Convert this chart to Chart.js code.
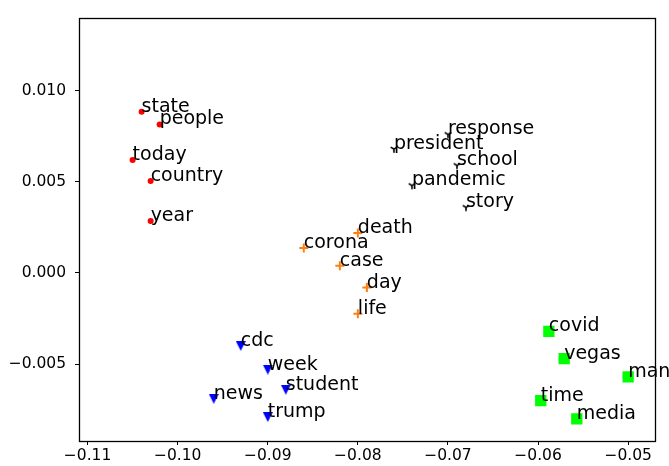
<!DOCTYPE html>
<html>
<head>
<meta charset="utf-8">
<script src="https://cdn.jsdelivr.net/npm/chart.js@4/dist/chart.umd.min.js"></script>
<style>
  html, body { margin: 0; padding: 0; background: #fff; overflow: hidden; }
  #wrap { width: 669px; height: 466px; overflow: hidden; }
  canvas { display: block; }
</style>
</head>
<body>
<div id="wrap"><canvas id="c" width="669" height="490"></canvas></div>
<script>
// Word embedding clusters (2-D projection)
const redWords = ['state', 'people', 'today', 'country', 'year'];
const redX = [-0.104, -0.102, -0.105, -0.103, -0.103];
const redY = [0.00885, 0.00815, 0.0062, 0.00505, 0.00285];

const blackWords = ['response', 'president', 'school', 'pandemic', 'story'];
const blackX = [-0.070, -0.076, -0.069, -0.074, -0.068];
const blackY = [0.0076, 0.0068, 0.0059, 0.0048, 0.0036];

const orangeWords = ['death', 'corona', 'case', 'day', 'life'];
const orangeX = [-0.080, -0.086, -0.082, -0.079, -0.080];
const orangeY = [0.0022, 0.00137, 0.0004, -0.0008, -0.00224];

const blueWords = ['cdc', 'week', 'student', 'news', 'trump'];
const blueX = [-0.093, -0.090, -0.088, -0.096, -0.090];
const blueY = [-0.0040, -0.0053, -0.0064, -0.0069, -0.0079];

const greenWords = ['covid', 'vegas', 'man', 'time', 'media'];
const greenX = [-0.0588, -0.0571, -0.0500, -0.0597, -0.0557];
const greenY = [-0.0032, -0.0047, -0.0057, -0.0070, -0.0080];

const xTickValues = [-0.11, -0.10, -0.09, -0.08, -0.07, -0.06, -0.05];
const xTickLabels = ['\u22120.11', '\u22120.10', '\u22120.09', '\u22120.08', '\u22120.07', '\u22120.06', '\u22120.05'];
const yTickValues = [-0.005, 0.000, 0.005, 0.010];
const yTickLabels = ['\u22120.005', '0.000', '0.005', '0.010'];

const FONT = '"DejaVu Sans", sans-serif';

function toPoints(xs, ys) {
  return xs.map((x, i) => ({ x: x, y: ys[i] }));
}

// downward triangle marker (equal width and height)
function triangleDown(size, color) {
  const cv = document.createElement('canvas');
  cv.width = size; cv.height = size;
  const g = cv.getContext('2d');
  g.fillStyle = color;
  g.beginPath();
  g.moveTo(0, 0);
  g.lineTo(size, 0);
  g.lineTo(size / 2, size);
  g.closePath();
  g.fill();
  return cv;
}

// "Y"-shaped three-spoke marker
function triDown(r, lw, color) {
  const s = Math.ceil(2 * r + lw + 2);
  const cv = document.createElement('canvas');
  cv.width = s; cv.height = s;
  const g = cv.getContext('2d');
  const c = s / 2;
  g.strokeStyle = color;
  g.lineWidth = lw;
  g.lineCap = 'butt';
  g.beginPath();
  g.moveTo(c, c); g.lineTo(c, c + r);
  g.moveTo(c, c); g.lineTo(c - 0.866 * r, c - 0.5 * r);
  g.moveTo(c, c); g.lineTo(c + 0.866 * r, c - 0.5 * r);
  g.stroke();
  return cv;
}

const wordLabels = {
  id: 'wordLabels',
  afterDatasetsDraw(chart) {
    const ctx = chart.ctx;
    ctx.save();
    ctx.font = '19px ' + FONT;
    ctx.fillStyle = '#000';
    ctx.textAlign = 'left';
    ctx.textBaseline = 'alphabetic';
    chart.data.datasets.forEach((ds, di) => {
      const meta = chart.getDatasetMeta(di);
      meta.data.forEach((el, i) => {
        ctx.fillText(ds.words[i], el.x, el.y);
      });
    });
    ctx.restore();
  }
};

const frameBox = {
  id: 'frameBox',
  afterDraw(chart) {
    const a = chart.chartArea;
    const ctx = chart.ctx;
    ctx.save();
    ctx.strokeStyle = '#000';
    ctx.lineWidth = 1.3;
    ctx.strokeRect(Math.round(a.left) + 0.5, Math.round(a.top) + 0.5,
                   Math.round(a.right - a.left), Math.round(a.bottom - a.top));
    ctx.restore();
  }
};

new Chart(document.getElementById('c'), {
  type: 'scatter',
  data: {
    datasets: [
      { words: redWords, data: toPoints(redX, redY), pointStyle: 'circle', pointRadius: 3,
        backgroundColor: '#ff0000', borderWidth: 0 },
      { words: blackWords, data: toPoints(blackX, blackY), pointStyle: triDown(3.8, 1.6, '#000'),
        pointRadius: 4 },
      { words: orangeWords, data: toPoints(orangeX, orangeY), pointStyle: 'cross', pointRadius: 4.5,
        borderColor: '#ff7f0e', borderWidth: 2 },
      { words: blueWords, data: toPoints(blueX, blueY), pointStyle: triangleDown(10, '#0000ff'),
        pointRadius: 5 },
      { words: greenWords, data: toPoints(greenX, greenY), pointStyle: 'rect', pointRadius: 8,
        backgroundColor: '#00ff00', borderWidth: 0 }
    ]
  },
  options: {
    responsive: false,
    animation: false,
    events: [],
    layout: { padding: { top: 13, right: 14, left: 0, bottom: 0 } },
    plugins: { legend: { display: false }, tooltip: { enabled: false } },
    scales: {
      x: {
        type: 'linear',
        min: -0.11095,
        max: -0.04702,
        grid: { drawOnChartArea: false, drawTicks: true, tickLength: 4, tickColor: '#000', tickWidth: 1 },
        border: { display: false },
        afterBuildTicks(scale) { scale.ticks = xTickValues.map(v => ({ value: v })); },
        afterFit(scale) { scale.height = 49; },
        ticks: {
          color: '#000',
          font: { family: FONT, size: 15.5 },
          padding: 2,
          maxRotation: 0,
          autoSkip: false,
          callback(value) {
            const i = xTickValues.findIndex(v => Math.abs(v - value) < 1e-9);
            return i >= 0 ? xTickLabels[i] : '';
          }
        }
      },
      y: {
        type: 'linear',
        min: -0.009216,
        max: 0.01397,
        grid: { drawOnChartArea: false, drawTicks: true, tickLength: 4, tickColor: '#000', tickWidth: 1 },
        border: { display: false },
        afterBuildTicks(scale) { scale.ticks = yTickValues.map(v => ({ value: v })); },
        afterFit(scale) { scale.width = 79; },
        ticks: {
          color: '#000',
          font: { family: FONT, size: 15.5 },
          padding: 9,
          autoSkip: false,
          callback(value) {
            const i = yTickValues.findIndex(v => Math.abs(v - value) < 1e-9);
            return i >= 0 ? yTickLabels[i] : '';
          }
        }
      }
    }
  },
  plugins: [wordLabels, frameBox]
});
</script>
</body>
</html>
